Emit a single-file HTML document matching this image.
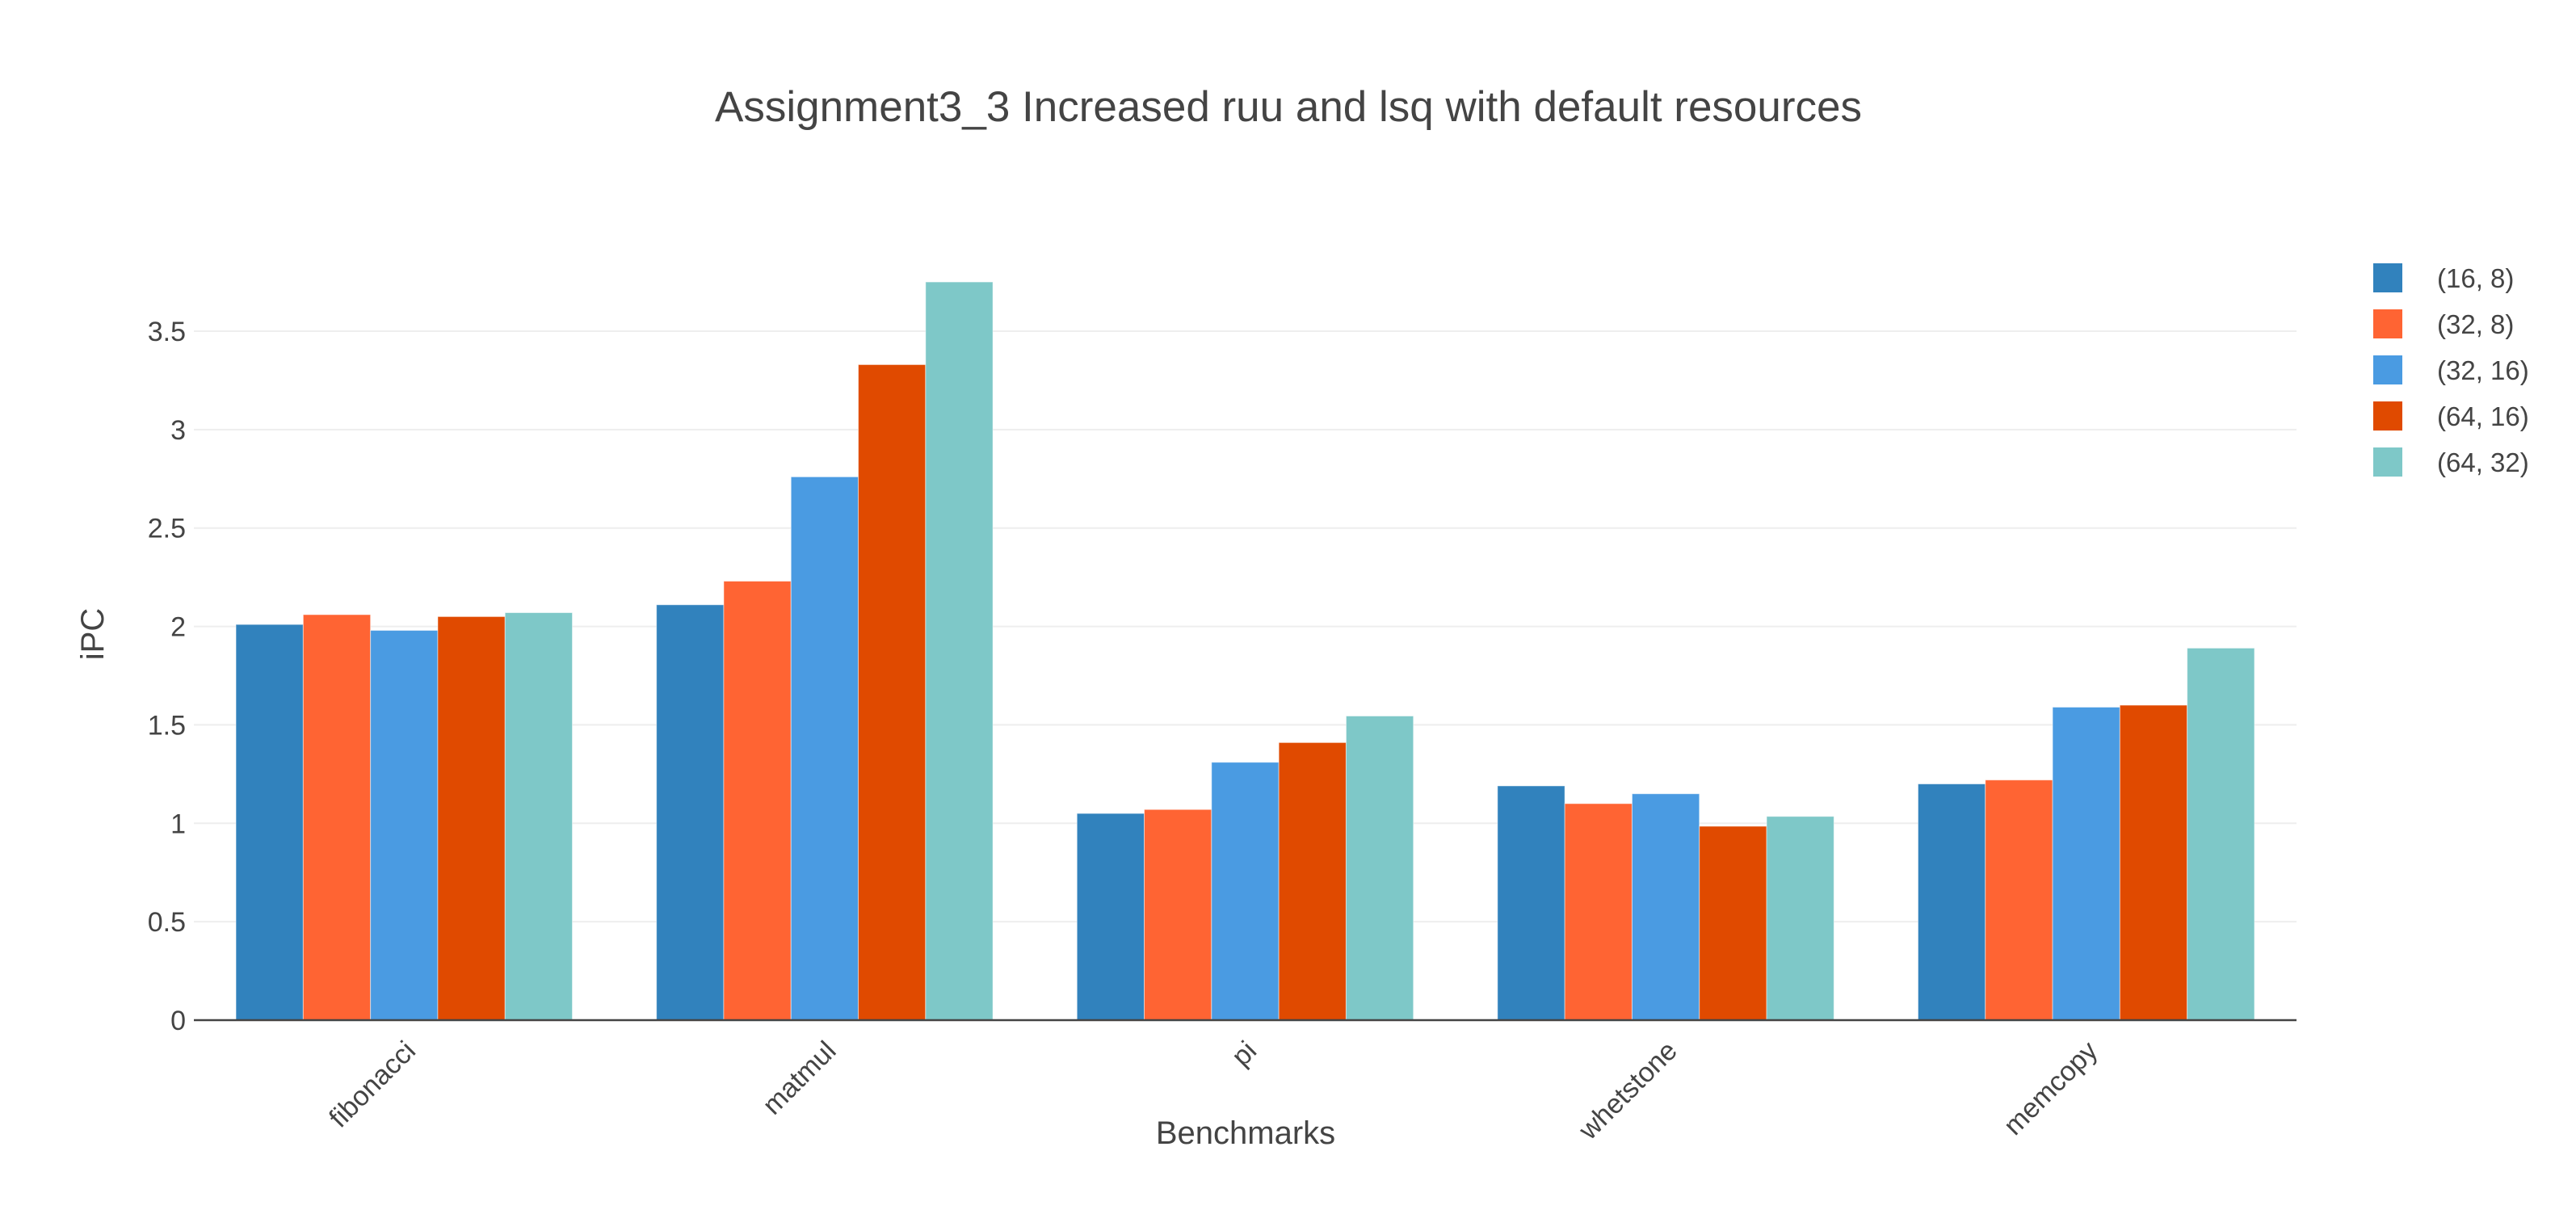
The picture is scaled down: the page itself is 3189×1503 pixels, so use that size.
<!DOCTYPE html>
<html><head><meta charset="utf-8"><style>
html,body{margin:0;padding:0;background:#fff;}
svg{display:block;font-family:"Liberation Sans",sans-serif;}
</style></head><body>
<svg id="chart" width="3189" height="1503" viewBox="0 0 3189 1503" xmlns="http://www.w3.org/2000/svg">
<rect width="3189" height="1503" fill="#fff"/>
<text x="1595" y="150" text-anchor="middle" font-size="53" fill="#444">Assignment3_3 Increased ruu and lsq with default resources</text>
<g id="grid"></g>
<g id="bars"></g>
<g id="yticks"></g>
<g id="xticks"></g>
<line x1="240" x2="2843" y1="1263" y2="1263" stroke="#444" stroke-width="2.5"/>
<text x="0" y="0" transform="translate(128,785) rotate(-90)" text-anchor="middle" font-size="40" fill="#444">iPC</text>
<text x="1542" y="1416" text-anchor="middle" font-size="40" fill="#444">Benchmarks</text>
<g id="legend"></g>
</svg>
<script>
const categories = ["fibonacci","matmul","pi","whetstone","memcopy"];
const seriesNames = ["(16, 8)","(32, 8)","(32, 16)","(64, 16)","(64, 32)"];
const s16_8 = [2.01, 2.11, 1.05, 1.19, 1.20];
const s32_8 = [2.06, 2.23, 1.07, 1.10, 1.22];
const s32_16 = [1.98, 2.76, 1.31, 1.15, 1.59];
const s64_16 = [2.05, 3.33, 1.41, 0.985, 1.60];
const s64_32 = [2.07, 3.75, 1.545, 1.035, 1.89];
const yTicks = [0, 0.5, 1, 1.5, 2, 2.5, 3, 3.5];
const yTickLabels = ["0","0.5","1","1.5","2","2.5","3","3.5"];

const series = [s16_8, s32_8, s32_16, s64_16, s64_32];
const colors = ["#3182bd","#ff6433","#4a9be2","#e04a00","#7ec8c8"];
const NS = "http://www.w3.org/2000/svg";
const X0 = 240, X1 = 2843, Y0 = 1263, PX_PER = (1263-410)/3.5;
const catW = (X1 - X0) / categories.length;
const groupW = catW * 0.8;
const barW = groupW / series.length;
function y(v){ return Y0 - v * PX_PER; }
function xCat(i){ return X0 + catW * (i + 0.5); }
function mk(tag, attrs, parent){ const e = document.createElementNS(NS, tag); for (const k in attrs) e.setAttribute(k, attrs[k]); parent.appendChild(e); return e; }

const grid = document.getElementById('grid');
const yt = document.getElementById('yticks');
yTicks.forEach((t, i) => {
  if (t > 0) {
    const l = mk('line', {x1: X0, x2: X1, y1: y(t), y2: y(t), stroke: '#eee', 'stroke-width': 2}, grid);
    
    
  }
  const tx = mk('text', {x: 230, y: y(t) + 12, 'text-anchor': 'end', 'font-size': 34, fill: '#444'}, yt);
  tx.textContent = yTickLabels[i];
  
  
});

const bars = document.getElementById('bars');
series.forEach((s, si) => {
  s.forEach((v, ci) => {
    const x = xCat(ci) - groupW / 2 + si * barW;
    const r = mk('rect', {x: x, y: y(v), width: barW, height: Y0 - y(v), fill: colors[si], stroke: 'rgba(255,255,255,0.5)', 'stroke-width': 1}, bars);
    
    
  });
});

const xt = document.getElementById('xticks');
categories.forEach((c, i) => {
  const cx = xCat(i) + 16, cy = Y0 + 40;
  const t = mk('text', {x: 0, y: 0, transform: `translate(${cx},${cy}) rotate(-45)`, 'text-anchor': 'end', 'font-size': 34, fill: '#444'}, xt);
  t.textContent = c;
  
  
});

const lg = document.getElementById('legend');
seriesNames.forEach((n, i) => {
  const yy = 326 + i * 57;
  const r = mk('rect', {x: 2938, y: yy, width: 36, height: 36, fill: colors[i]}, lg);
  
  
  const t = mk('text', {x: 3017, y: yy + 30, 'font-size': 33, fill: '#444'}, lg);
  t.textContent = n;
  
  
});
</script>
</body></html>
